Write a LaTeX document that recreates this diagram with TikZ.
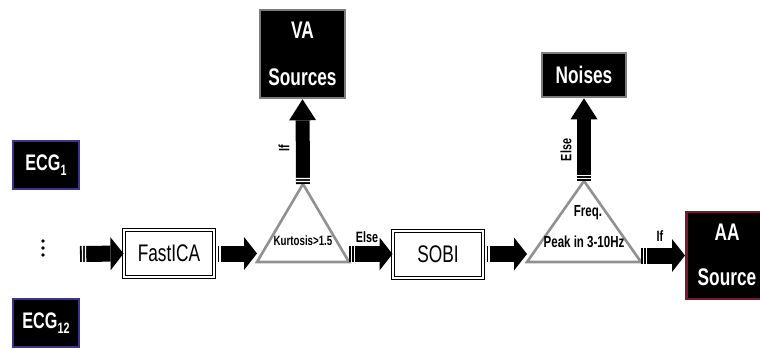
\documentclass[tikz,border=0pt]{standalone}
\usepackage{fontspec}
\setmainfont{Liberation Sans}[FakeStretch=0.72]
\usetikzlibrary{arrows.meta,decorations.markings}
\definecolor{trigray}{RGB}{145,145,145}
\definecolor{boxgray}{RGB}{125,125,125}
\definecolor{ecgblue}{RGB}{58,52,140}
\definecolor{aared}{RGB}{122,24,50}
\newcommand{\leadno}[1]{\raisebox{-5pt}{\fontsize{15}{15}\selectfont #1}}
\tikzset{
  stripes/.style={decorate,decoration={markings,
      mark=at position 1.8pt with {\fill[white] (0pt,-#1) rectangle (1.3pt,#1);},
      mark=at position 4.9pt with {\fill[white] (0pt,-#1) rectangle (1.3pt,#1);}}},
  hflow/.style={line width=16pt,
      -{Triangle[length=13pt,width=33pt,line width=0pt]},
      postaction={stripes=8.5pt}},
  vflow/.style={line width=14pt,
      -{Triangle[length=21pt,width=27pt,line width=0pt]},
      postaction={stripes=7.5pt}},
  algo/.style={draw=black,double=white,line width=1pt,double distance=2pt,
      fill=white,minimum width=90pt,minimum height=47pt,inner sep=0pt,
      font=\fontsize{24}{28}\selectfont},
  outbox/.style={fill=black,text=white,line width=2.6pt,inner sep=0pt,
      align=center,font=\bfseries\fontsize{24}{28}\selectfont},
  ecgbox/.style={fill=black,text=white,draw=ecgblue,line width=2.4pt,
      minimum width=66pt,minimum height=48pt,inner sep=0pt,
      font=\bfseries\fontsize{22.5}{26}\selectfont},
  cond/.style={draw=trigray,line width=2.6pt,fill=white,line join=miter},
  tag/.style={font=\bfseries\fontsize{15}{17}\selectfont,inner sep=0pt},
  intri/.style={inner sep=0pt,font=\bfseries\fontsize{#1}{#1}\selectfont},
}
\begin{document}
\begin{tikzpicture}[x=1pt,y=-1pt]
\useasboundingbox (0,0) rectangle (760,350);

% input leads
\node[ecgbox] (ecg1) at (46,165) {ECG\leadno{1}};
\node[ecgbox] (ecg12) at (46,323) {ECG\leadno{12}};
\foreach \yy in {241,248,255} \fill (43,\yy) circle (1.9pt);
\coordinate (in) at (80,254);

% separation stages
\node[algo] (fastica) at (169,253.5) {FastICA};
\node[algo] (sobi) at (438,254) {SOBI};

% decision triangles
\coordinate (k1) at (257,262); \coordinate (k2) at (349,262); \coordinate (ktop) at (303,184);
\draw[cond] (k1) -- (k2) -- (ktop) -- cycle;
\node[intri=13.5] (kurt) at (303,241) {Kurtosis>1.5};

\coordinate (f1) at (527,262); \coordinate (f2) at (641,262); \coordinate (ftop) at (584,181);
\draw[cond] (f1) -- (f2) -- (ftop) -- cycle;
\node[intri=16] (freq) at (588,213) {Freq.};
\node[intri=16] (peak) at (584,242) {Peak in 3-10Hz};

% outputs
\node[outbox,draw=boxgray,minimum width=85pt,minimum height=88pt] (va) at (302.5,54)
  {VA\\[19pt]Sources};
\node[outbox,draw=boxgray,minimum width=84pt,minimum height=44pt] (noise) at (584,75)
  {Noises};
\node[outbox,draw=aared,minimum width=80pt,minimum height=87pt,anchor=west] (aa) at (685,255.5)
  {};
\node[outbox,fill=none] (aatext) at (727,255) {AA\\[17pt]Source};

% flow arrows
\draw[hflow] (in) -- (fastica.west);
\draw[hflow] (fastica.east) -- (fastica.east -| k1);
\draw[hflow] (k2 |- sobi.west) -- (sobi.west);
\draw[hflow] (sobi.east) -- (sobi.east -| f1);
\draw[hflow] (f2 |- aa.west) -- (aa.west);
\draw[vflow] (ktop) -- (va.south);
\draw[vflow] (ftop) -- (noise.south);

% branch labels
\node[tag,rotate=90] (if1) at (284,148) {If};
\node[tag] (else1) at (367,237) {Else};
\node[tag,rotate=90] (else2) at (566,150) {Else};
\node[tag] (if2) at (660,236) {If};
\end{tikzpicture}
\end{document}
